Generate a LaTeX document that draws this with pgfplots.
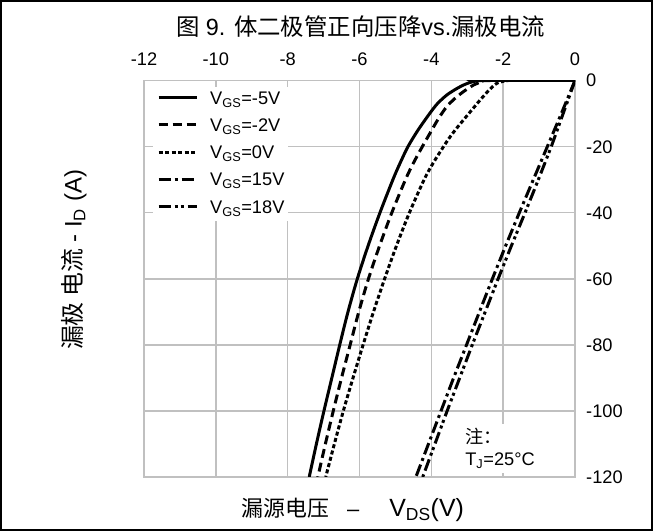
\documentclass[border=0pt]{standalone}
\usepackage{fontspec}
\setmainfont{Liberation Sans}
\newfontfamily\cjk{Noto Sans CJK SC}
\usepackage{pgfplots}
\usepackage{pgfplotstable}
\pgfplotsset{compat=1.18}
\definecolor{gridgray}{RGB}{192,192,192}

\pgfplotstableread{
x y
0 0
-2.60 0
-2.80 -0.25
-2.95 -0.7
-3.11 -1.4
-3.30 -2.5
-3.57 -4.4
-3.83 -7.0
-4.04 -9.9
-4.37 -15
-4.65 -20
-4.87 -25
-5.07 -30
-5.43 -40
-5.76 -50
-6.06 -60
-6.32 -70
-6.55 -80
-6.77 -90
-6.99 -100
-7.20 -110
-7.40 -120
}\vneg

\pgfplotstableread{
x y
0 0
-2.35 0
-2.55 -0.3
-2.70 -0.8
-2.83 -1.4
-3.11 -3.4
-3.35 -5.5
-3.57 -7.9
-3.80 -11.5
-4.04 -16.0
-4.25 -20
-4.50 -25
-4.72 -30
-5.10 -40
-5.44 -50
-5.75 -60
-6.02 -70
-6.26 -80
-6.50 -90
-6.73 -100
-6.95 -110
-7.16 -120
}\vmid

\pgfplotstableread{
x y
0 0
-1.85 0
-2.00 -0.25
-2.18 -0.85
-2.40 -3.0
-2.64 -5.9
-2.88 -9.0
-3.11 -12.0
-3.35 -15.2
-3.57 -18.5
-3.95 -25
-4.20 -30
-4.61 -40
-4.97 -50
-5.30 -60
-5.61 -70
-5.90 -80
-6.18 -90
-6.45 -100
-6.70 -110
-6.94 -120
}\vzero

\pgfplotstableread{
x y
0 0
-0.38 -10
-0.77 -20
-1.16 -30
-1.55 -40
-1.93 -50
-2.30 -60
-2.66 -70
-3.02 -80
-3.38 -90
-3.73 -100
-4.08 -110
-4.43 -120
}\vfifteen

\pgfplotstableread{
x y
0 0
-0.33 -10
-0.66 -20
-1.02 -30
-1.39 -40
-1.77 -50
-2.14 -60
-2.50 -70
-2.86 -80
-3.21 -90
-3.56 -100
-3.90 -110
-4.24 -120
}\veighteen

\begin{document}
\begin{tikzpicture}
\useasboundingbox (-144bp,-54bp) rectangle (509bp,477bp);
\draw[line width=2.5bp] (-142.75bp,-52.75bp) rectangle (507.75bp,475.75bp);
\begin{axis}[
  at={(0,0)}, anchor=south west,
  scale only axis, width=431bp, height=396.5bp,
  xmin=-12, xmax=0, ymin=-120, ymax=0,
  xtick={-12,-10,-8,-6,-4,-2,0},
  ytick={-120,-100,-80,-60,-40,-20,0},
  xticklabel pos=top, yticklabel pos=right,
  major tick length=0pt,
  grid=major,
  grid style={gridgray, line width=1.6bp},
  axis line style={gridgray, line width=1.6bp},
  tick label style={font=\fontsize{18.3}{22}\selectfont, inner sep=0pt},
  /pgf/number format/assume math mode=true,
  xticklabel style={anchor=base, yshift=14.5bp},
  yticklabel style={anchor=base west, xshift=11bp, yshift=-6.5bp},
  legend style={
    at={(axis description cs:0.021,0.984)}, anchor=north west,
    draw=none, fill=white, inner xsep=4bp, inner ysep=4bp,
    font=\fontsize{18.3}{22}\selectfont,
    row sep=10.3bp, column sep=12bp,
    nodes={inner sep=0pt, text height=13bp, text depth=4bp},
  },
  legend cell align=left,
  legend image code/.code={\draw[#1] (0bp,2bp) -- (38bp,2bp);},
]
\addplot[black, line width=3bp, smooth, tension=0.5] table {\vneg};
\addlegendentry{V\textsubscript{GS}=-5V}
\addplot[black, line width=3bp, dash pattern=on 9bp off 5bp, smooth, tension=0.5] table {\vmid};
\addlegendentry{V\textsubscript{GS}=-2V}
\addplot[black, line width=3bp, dash pattern=on 4bp off 2.5bp, smooth, tension=0.5] table {\vzero};
\addlegendentry{V\textsubscript{GS}=0V}
\addplot[black, line width=3bp, dash pattern=on 12bp off 4bp on 3bp off 4bp] table {\vfifteen};
\addlegendentry{V\textsubscript{GS}=15V}
\addplot[black, line width=3bp, dash pattern=on 12bp off 4bp on 3bp off 3bp on 3bp off 4bp] table {\veighteen};
\addlegendentry{V\textsubscript{GS}=18V}
\node[fill=white, anchor=north west, align=left, inner sep=4bp,
  font=\fontsize{18.3}{22}\selectfont] at (axis cs:-3.17,-104)
  {{\cjk 注：}\\T\textsubscript{J}=25°C};
\end{axis}
\node[anchor=base, font=\fontsize{23.5}{27}\selectfont] at (216.5bp,441bp)
  {{\cjk 图} 9. {\cjk 体二极管正向压降}vs.{\cjk 漏极电流}};
\node[rotate=90, font=\fontsize{24}{27}\selectfont] at (-70bp,217bp)
  {{\cjk 漏极 电流} - I\textsubscript{D} (A)};
\node[anchor=base west, font=\fontsize{22}{26}\selectfont] at (94bp,-39.7bp)
  {{\cjk 漏源电压}\hspace{18bp}–\hspace{30bp}{\fontsize{25}{28}\selectfont V\textsubscript{DS}(V)}};
\end{tikzpicture}
\end{document}
